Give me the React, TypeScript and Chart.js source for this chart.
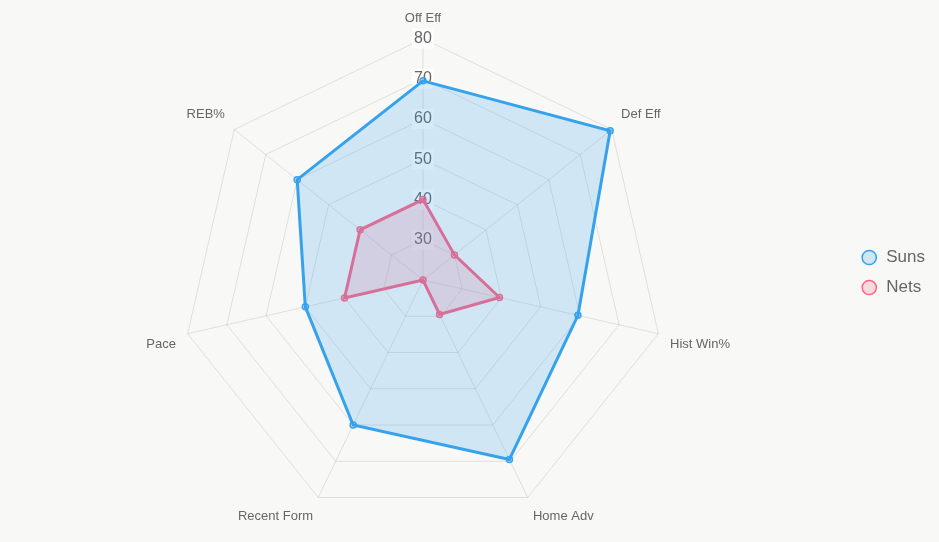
import React, { useEffect, useRef } from "react";
import { Chart, registerables } from "chart.js";

Chart.register(...registerables);

const categories = ["Off Eff", "Def Eff", "Hist Win%", "Home Adv", "Recent Form", "Pace", "REB%"];
const sunsValues = [69.5, 79.5, 59.5, 69.5, 60, 50, 60];
const netsValues = [40, 30, 39.5, 29.5, 20, 40, 40];
const scaleMin = 20;
const scaleMax = 80;
const scaleStep = 10;

export default function App() {
  const ref = useRef<HTMLCanvasElement | null>(null);
  useEffect(() => {
    document.body.style.background = "#f8f8f7";
    document.body.style.margin = "0";
    document.body.style.overflow = "hidden";
    const ctx = ref.current!;
    const chart = new Chart(ctx, {
      type: "radar",
      data: {
        labels: categories,
        datasets: [
          {
            label: "Suns",
            data: sunsValues,
            borderColor: "#36a2eb",
            backgroundColor: "rgba(54,162,235,0.2)",
            pointBackgroundColor: "rgba(54,162,235,0.2)",
            pointBorderColor: "#36a2eb",
            borderWidth: 3,
            pointRadius: 3,
            pointBorderWidth: 1.5,
            fill: true,
          },
          {
            label: "Nets",
            data: netsValues,
            borderColor: "#ff6384",
            backgroundColor: "rgba(255,99,132,0.2)",
            pointBackgroundColor: "rgba(255,99,132,0.2)",
            pointBorderColor: "#ff6384",
            borderWidth: 3,
            pointRadius: 3,
            pointBorderWidth: 1.5,
            fill: true,
          },
        ],
      },
      options: {
        animation: false,
        responsive: true,
        maintainAspectRatio: false,
        layout: { padding: { top: 3, right: 4, left: 0, bottom: 0 } },
        plugins: {
          legend: {
            position: "right",
            labels: {
              usePointStyle: true,
              pointStyle: "circle",
              color: "#666",
              font: { size: 17 },
              boxWidth: 19,
              boxHeight: 10,
              padding: 13,
            },
          },
          tooltip: { enabled: false },
        },
        scales: {
          r: {
            min: scaleMin,
            max: scaleMax,
            ticks: {
              stepSize: scaleStep,
              color: "#666",
              font: { size: 16 },
              backdropColor: "rgba(255,255,255,0.75)",
            },
            pointLabels: {
              color: "#666",
              font: { size: 13 },
              padding: 2,
            },
            grid: { color: "rgba(0,0,0,0.1)" },
            angleLines: { color: "rgba(0,0,0,0.1)" },
          },
        },
      },
    });
    return () => chart.destroy();
  }, []);
  return (
    <div style={{ width: 939, height: 542, position: "relative" }}>
      <canvas ref={ref} />
    </div>
  );
}
